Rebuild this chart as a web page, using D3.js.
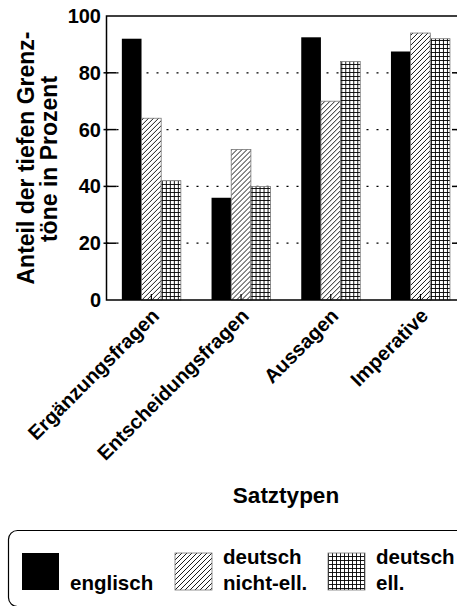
<!DOCTYPE html>
<html>
<head>
<meta charset="utf-8">
<script src="https://cdn.jsdelivr.net/npm/d3@7"></script>
<style>
body{margin:0;background:#fff;}
text{font-family:"Liberation Sans",Arial,sans-serif;font-weight:bold;fill:#000;}
</style>
</head>
<body>
<svg width="457" height="606"></svg>
<script>
var categories = ["Ergänzungsfragen","Entscheidungsfragen","Aussagen","Imperative"];
var seriesKeys = ["englisch","nichtEll","ell"];
var englisch = [92, 36, 92.5, 87.5];
var deutschNichtEll = [64, 53, 70, 94];
var deutschEll = [42, 40, 84, 92];
var yTicks = [0,20,40,60,80,100];
var gridTicks = [20,40,60,80];

var values = {englisch: englisch, nichtEll: deutschNichtEll, ell: deutschEll};
var fills = {englisch: "#000", nichtEll: "url(#hatch)", ell: "url(#grid)"};

var svg = d3.select("svg");

// patterns
var defs = svg.append("defs");
var hatch = defs.append("pattern").attr("id","hatch")
  .attr("patternUnits","userSpaceOnUse").attr("width",5).attr("height",5);
hatch.append("rect").attr("width",5).attr("height",5).attr("fill","#fff");
hatch.append("path").attr("d","M0,5L5,0M-1,1L1,-1M4,6L6,4")
  .attr("stroke","#000").attr("stroke-width",0.9);
var grid = defs.append("pattern").attr("id","grid")
  .attr("patternUnits","userSpaceOnUse").attr("width",4).attr("height",4);
grid.append("rect").attr("width",4).attr("height",4).attr("fill","#fff");
grid.append("path").attr("d","M0,0.5H4M0.5,0V4")
  .attr("stroke","#000").attr("stroke-width",0.9);

var plotL = 106.5, plotR = 462, plotT = 16, plotB = 300;

var y = d3.scaleLinear().domain([0,100]).range([plotB, plotT]);
var x0 = d3.scaleBand().domain(categories).range([plotL, 465.3]);
var groupW = 59;
var x1 = d3.scaleBand().domain(seriesKeys).range([0, groupW]);
var off = (x0.bandwidth() - groupW) / 2;

// dotted gridlines
svg.append("g").selectAll("line").data(gridTicks).enter().append("line")
  .attr("x1", plotL).attr("x2", plotR)
  .attr("y1", function(d){ return y(d); }).attr("y2", function(d){ return y(d); })
  .attr("stroke","#000").attr("stroke-width",1.2).attr("stroke-dasharray","2,8");

// bars
var groups = svg.append("g").selectAll("g").data(categories).enter().append("g")
  .attr("transform", function(d){ return "translate(" + (x0(d) + off) + ",0)"; });
groups.selectAll("rect")
  .data(function(d, i){ return seriesKeys.map(function(k){ return {key:k, value:values[k][i]}; }); })
  .enter().append("rect")
  .attr("x", function(d){ return x1(d.key); })
  .attr("width", x1.bandwidth())
  .attr("y", function(d){ return y(d.value); })
  .attr("height", function(d){ return plotB - y(d.value); })
  .attr("fill", function(d){ return fills[d.key]; })
  .attr("stroke", function(d){ return d.key == "englisch" ? "none" : "#777"; })
  .attr("stroke-width", 0.8);

// frame
svg.append("path")
  .attr("d","M"+plotR+","+plotT+"H"+plotL+"V"+plotB+"H"+plotR)
  .attr("fill","none").attr("stroke","#000").attr("stroke-width",1.5);

// y ticks inward both sides
var tk = svg.append("g");
tk.selectAll("line.l").data(yTicks.slice(1,5)).enter().append("line").attr("class","l")
  .attr("x1", plotL-3).attr("x2", plotL+10)
  .attr("y1", function(d){ return y(d); }).attr("y2", function(d){ return y(d); })
  .attr("stroke","#000").attr("stroke-width",1.5);
tk.selectAll("line.r").data(yTicks.slice(1,5)).enter().append("line").attr("class","r")
  .attr("x1", plotR-10).attr("x2", plotR)
  .attr("y1", function(d){ return y(d); }).attr("y2", function(d){ return y(d); })
  .attr("stroke","#000").attr("stroke-width",1.5);
// x ticks
tk.selectAll("line.x").data(categories).enter().append("line").attr("class","x")
  .attr("x1", function(d){ return x0(d) + x0.bandwidth()/2; })
  .attr("x2", function(d){ return x0(d) + x0.bandwidth()/2; })
  .attr("y1", plotB).attr("y2", plotB-6)
  .attr("stroke","#000").attr("stroke-width",1.2);

// y labels
var yAxis = d3.axisLeft(y).tickValues(yTicks).tickSize(0).tickPadding(5.5);
var ya = svg.append("g").attr("transform","translate("+plotL+",0)").call(yAxis);
ya.select(".domain").remove();
ya.selectAll("text").attr("font-size",20).attr("font-family",null);

// x labels
svg.append("g").selectAll("text").data(categories).enter().append("text")
  .attr("transform", function(d){ return "translate(" + (x0(d) + x0.bandwidth()/2 + 9) + ",317) rotate(-45)"; })
  .attr("text-anchor","end")
  .attr("font-size",20)
  .text(function(d){ return d; });

// axis titles
svg.append("text").attr("transform","translate(34,158) rotate(-90)")
  .attr("text-anchor","middle").attr("font-size",23).text("Anteil der tiefen Grenz-");
svg.append("text").attr("transform","translate(57,159) rotate(-90)")
  .attr("text-anchor","middle").attr("font-size",23).text("töne in Prozent");
svg.append("text").attr("x",286).attr("y",503)
  .attr("text-anchor","middle").attr("font-size",22.5).text("Satztypen");

// legend
svg.append("rect").attr("x",8.5).attr("y",530.5).attr("width",470).attr("height",76)
  .attr("rx",9).attr("fill","none").attr("stroke","#000").attr("stroke-width",1.2);
var legendItems = [
  {key:"englisch", x:22, lines:["","englisch"]},
  {key:"nichtEll", x:175, lines:["deutsch","nicht-ell."]},
  {key:"ell", x:328, lines:["deutsch","ell."]}
];
var lg = svg.append("g").selectAll("g").data(legendItems).enter().append("g");
lg.append("rect")
  .attr("x", function(d){ return d.x; }).attr("y",553)
  .attr("width", 37).attr("height", 37)
  .attr("fill", function(d){ return fills[d.key]; })
  .attr("stroke", function(d){ return d.key == "englisch" ? "none" : "#777"; })
  .attr("stroke-width",0.8);
lg.append("text").attr("x", function(d){ return d.x + 48; }).attr("y",564)
  .attr("font-size",20.5).text(function(d){ return d.lines[0]; });
lg.append("text").attr("x", function(d){ return d.x + 48; }).attr("y",590)
  .attr("font-size",20.5).text(function(d){ return d.lines[1]; });
</script>
</body>
</html>
